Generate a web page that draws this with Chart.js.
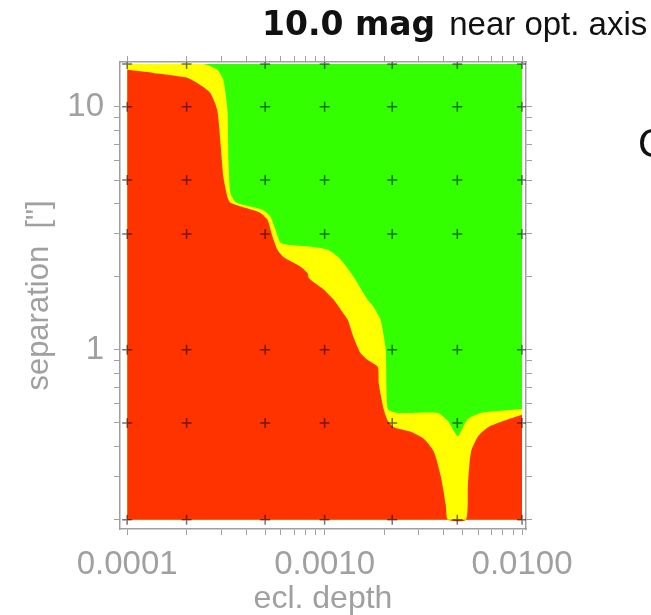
<!DOCTYPE html>
<html>
<head>
<meta charset="utf-8">
<script src="https://cdn.jsdelivr.net/npm/chart.js@4.4.0/dist/chart.umd.min.js"></script>
<style>
  html, body { margin: 0; padding: 0; background: #fff; }
</style>
</head>
<body>
<canvas id="limitChart" width="651" height="615"></canvas>
<script>
// upper edge of the red area (ecl. depth -> separation)
var redDepth = [1.0e-4, 1.36e-4, 2.0e-4, 2.35e-4, 2.64e-4, 2.86e-4, 2.97e-4, 3.07e-4, 3.22e-4, 3.33e-4,
  3.97e-4, 4.73e-4, 5.14e-4, 5.45e-4, 5.77e-4, 6.19e-4, 7.55e-4, 8.20e-4, 8.30e-4, 8.79e-4,
  9.89e-4, 1.11e-3, 1.21e-3, 1.31e-3, 1.40e-3, 1.52e-3, 1.65e-3, 1.86e-3, 1.88e-3, 1.99e-3,
  2.09e-3, 2.24e-3, 2.73e-3, 3.18e-3, 3.58e-3, 3.88e-3, 4.11e-3, 4.21e-3, 5.20e-3, 5.32e-3,
  5.51e-3, 5.98e-3, 6.72e-3, 8.10e-3, 1.0e-2];
var redSep = [14.2, 13.8, 13.2, 12.3, 11.4, 9.7, 7.1, 5.15, 4.26, 4.03,
  3.84, 3.66, 3.43, 2.92, 2.58, 2.41, 2.20, 2.07, 1.98, 1.90,
  1.77, 1.61, 1.46, 1.33, 1.13, 0.97, 0.91, 0.85, 0.73, 0.57,
  0.51, 0.48, 0.46, 0.43, 0.38, 0.30, 0.23, 0.20, 0.20, 0.28,
  0.38, 0.44, 0.48, 0.51, 0.54];

// upper edge of the yellow band
var yellowDepth = [1.0e-4, 2.43e-4, 2.86e-4, 3.07e-4, 3.22e-4, 3.26e-4, 3.33e-4, 3.53e-4, 3.88e-4, 4.90e-4,
  5.32e-4, 5.64e-4, 5.98e-4, 6.72e-4, 8.79e-4, 1.04e-3, 1.21e-3, 1.40e-3, 1.65e-3, 1.77e-3,
  1.92e-3, 2.04e-3, 2.09e-3, 2.35e-3, 3.75e-3, 4.21e-3, 4.47e-3, 4.73e-3, 5.02e-3, 5.32e-3,
  6.19e-3, 1.0e-2];
var yellowSep = [15, 15, 14.2, 12.9, 9.7, 6.05, 4.43, 4.06, 3.95, 3.75,
  3.53, 3.12, 2.76, 2.70, 2.65, 2.58, 2.35, 2.00, 1.61, 1.50,
  1.33, 1.0, 0.57, 0.55, 0.55, 0.51, 0.47, 0.44, 0.48, 0.52,
  0.55, 0.57];

// green covers the rest of the grid
var greenDepth = [1.0e-4, 1.0e-2];
var greenSep = [15, 15];

// grid of "+" marks
var gridDepth = [0.0001, 0.0002, 0.0005, 0.001, 0.0022, 0.0047, 0.01];
var gridSep = [15, 10, 5, 3, 1, 0.5, 0.2];

var xTickValues = [0.0001, 0.001, 0.01];
var xTickLabels = ['0.0001', '0.0010', '0.0100'];
var yTickValues = [1, 10];
var yTickLabels = ['1', '10'];

function pairs(xs, ys) {
  return xs.map(function (x, i) { return { x: x, y: ys[i] }; });
}

var crossPts = [];
gridDepth.forEach(function (d) {
  gridSep.forEach(function (s) { crossPts.push({ x: d, y: s }); });
});

function logTicks(from, to) {
  var t = [];
  for (var dec = from; dec < to * 0.999; dec *= 10) {
    for (var m = 1; m <= 9; m++) t.push({ value: dec * m });
  }
  t.push({ value: to });
  return t;
}

var grey = '#a0a0a0';
var axisFont = { family: 'Liberation Sans, Arial, sans-serif', size: 33 };
var gridOpts = { drawOnChartArea: false, drawTicks: true, tickLength: 6, color: grey };
var borderOpts = { display: true, color: grey, width: 1.5 };

var xMin = 9.2e-5, xMax = 1.047e-2, yMin = 0.183, yMax = 15.3;

var headerPlugin = {
  id: 'header',
  afterDraw: function (chart) {
    var c = chart.ctx;
    c.save();
    c.fillStyle = '#111';
    c.textBaseline = 'alphabetic';
    c.font = 'bold 33px "DejaVu Sans"';
    c.fillText('10.0 mag', 262, 35);
    var w = c.measureText('10.0 mag').width;
    c.font = '33px "Liberation Sans"';
    c.fillText('near opt. axis', 262 + w + 14, 35);
    c.font = '40px "Liberation Sans"';
    c.fillText('C', 638, 157);
    c.restore();
  }
};

var ctx = document.getElementById('limitChart');
var limitChart = new Chart(ctx, {
  type: 'scatter',
  plugins: [headerPlugin],
  data: {
    datasets: [{
      label: 'grid',
      data: crossPts,
      pointStyle: 'cross',
      pointRadius: 5,
      pointBorderWidth: 1.5,
      pointBorderColor: 'rgba(0,0,0,0.55)',
      showLine: false
    }, {
      label: 'red',
      data: pairs(redDepth, redSep),
      showLine: true,
      tension: 0.2,
      borderWidth: 0,
      pointRadius: 0,
      backgroundColor: '#ff3300',
      fill: { value: 0.2 }
    }, {
      label: 'yellow',
      data: pairs(yellowDepth, yellowSep),
      showLine: true,
      tension: 0.2,
      borderWidth: 0,
      pointRadius: 0,
      backgroundColor: '#ffff00',
      fill: { value: 0.2 }
    }, {
      label: 'green',
      data: pairs(greenDepth, greenSep),
      showLine: true,
      borderWidth: 0,
      pointRadius: 0,
      backgroundColor: '#33ff00',
      fill: { value: 0.2 }
    }]
  },
  options: {
    responsive: false,
    animation: false,
    layout: { padding: 0 },
    plugins: {
      legend: { display: false },
      tooltip: { enabled: false },
      title: { display: false }
    },
    scales: {
      x: {
        type: 'logarithmic',
        position: 'bottom',
        min: xMin, max: xMax,
        afterBuildTicks: function (s) { s.ticks = logTicks(1e-4, 1e-2); },
        afterFit: function (s) { s.height = 86; },
        grid: gridOpts,
        border: borderOpts,
        ticks: {
          autoSkip: false, maxRotation: 0, padding: 10, color: grey, font: axisFont,
          callback: function (v) {
            var i = xTickValues.indexOf(v);
            return i >= 0 ? xTickLabels[i] : '';
          }
        },
        title: { display: true, text: 'ecl. depth', color: grey, padding: 0,
          font: { family: axisFont.family, size: 32, lineHeight: 1 } }
      },
      x2: {
        type: 'logarithmic',
        position: 'top',
        min: xMin, max: xMax,
        afterBuildTicks: function (s) { s.ticks = logTicks(1e-4, 1e-2); },
        afterFit: function (s) { s.height = 62; },
        grid: gridOpts,
        border: borderOpts,
        ticks: { display: false }
      },
      y: {
        type: 'logarithmic',
        position: 'left',
        min: yMin, max: yMax,
        afterBuildTicks: function (s) { s.ticks = logTicks(0.1, 10).slice(1); },
        afterFit: function (s) { s.width = 120; },
        grid: gridOpts,
        border: borderOpts,
        ticks: {
          autoSkip: false, padding: 10, color: grey, font: axisFont,
          callback: function (v) {
            var i = yTickValues.indexOf(v);
            return i >= 0 ? yTickLabels[i] : '';
          }
        },
        title: { display: true, text: 'separation  ["]', color: grey, padding: { top: 24, bottom: 0 },
          font: { family: axisFont.family, size: 31, lineHeight: 1 } }
      },
      y2: {
        type: 'logarithmic',
        position: 'right',
        min: yMin, max: yMax,
        afterBuildTicks: function (s) { s.ticks = logTicks(0.1, 10).slice(1); },
        afterFit: function (s) { s.width = 125; },
        grid: gridOpts,
        border: borderOpts,
        ticks: { display: false }
      }
    }
  }
});
</script>
</body>
</html>
